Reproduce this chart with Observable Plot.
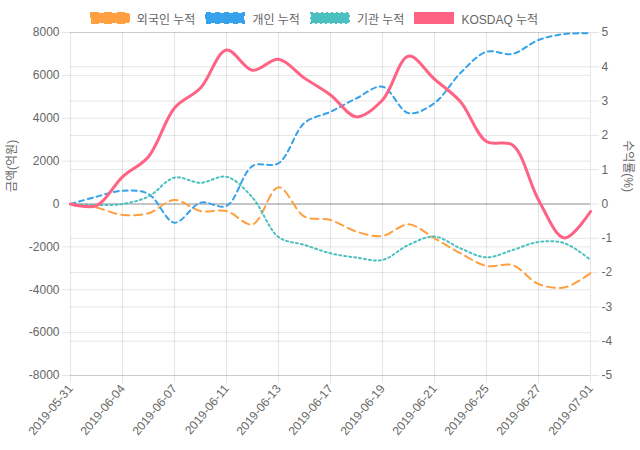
<!DOCTYPE html>
<html>
<head>
<meta charset="utf-8">
<script src="https://cdn.jsdelivr.net/npm/d3@7"></script>
<script src="https://cdn.jsdelivr.net/npm/@observablehq/plot@0.6"></script>
<style>
  body { margin: 0; background: #fff; }
  #wrap { position: relative; width: 640px; height: 450px; font-family: "Liberation Sans", Arial, "Noto Sans CJK KR", sans-serif; }
  #legend { position: absolute; top: 11px; left: 0; width: 640px; height: 14px; display: flex; justify-content: center; align-items: center; font-size: 12px; color: #666; padding-right: 12px; box-sizing: border-box; }
  .item { display: flex; align-items: center; margin: 0 5px; }
  .item svg { margin-right: 7px; }
</style>
</head>
<body>
<div id="wrap">
  <div id="chart"></div>
  <div id="legend"></div>
</div>
<script>
const dates = ["2019-05-31","2019-06-03","2019-06-04","2019-06-05","2019-06-07","2019-06-10","2019-06-11","2019-06-12","2019-06-13","2019-06-14","2019-06-17","2019-06-18","2019-06-19","2019-06-20","2019-06-21","2019-06-24","2019-06-25","2019-06-26","2019-06-27","2019-06-28","2019-07-01"];
const foreign = [0,-170,-510,-430,190,-330,-330,-950,780,-590,-750,-1290,-1490,-950,-1600,-2300,-2890,-2850,-3730,-3890,-3230];
const individual = [0,340,620,470,-870,60,-90,1770,1900,3780,4300,4930,5470,4240,4710,6110,7100,7000,7650,7930,7960];
const institution = [0,-50,0,350,1230,990,1270,300,-1540,-1910,-2300,-2500,-2610,-1910,-1520,-2070,-2490,-2150,-1770,-1830,-2610];
const kosdaq = [0,-0.05,0.79,1.38,2.8,3.38,4.49,3.9,4.22,3.67,3.18,2.54,3.03,4.31,3.64,2.98,1.82,1.72,0.12,-0.99,-0.22];

const seriesNames = ["외국인 누적","개인 누적","기관 누적","KOSDAQ 누적"];
const seriesColors = ["rgb(255,159,64)","rgb(54,162,235)","rgb(75,192,192)","rgb(255,99,132)"];
const seriesDash = ["8,5","5,4","2,3",null];
const leftTicks = [-8000,-6000,-4000,-2000,0,2000,4000,6000,8000];
const rightTicks = [-5,-4,-3,-2,-1,0,1,2,3,4,5];
const xTickLabels = dates.filter((d,i) => i % 2 === 0);
const leftTitle = "금액(억원)";
const rightTitle = "수익률(%)";

const K = 8000 / 5; // right-axis (%) to left-axis units
const rows = dates.map((d,i) => ({date: d, foreign: foreign[i], individual: individual[i], institution: institution[i], kosdaq: kosdaq[i] * K}));

const gridColor = "rgba(0,0,0,0.1)";
const font = "'Liberation Sans', Arial, 'Noto Sans CJK KR', sans-serif";

const chart = Plot.plot({
  width: 640,
  height: 450,
  marginTop: 32,
  marginBottom: 75,
  marginLeft: 70,
  marginRight: 50,
  style: {fontSize: "12px", fontFamily: font, color: "#666", background: "#fff"},
  x: {type: "point", domain: dates, padding: 0},
  y: {domain: [-8000, 8000]},
  marks: [
    Plot.ruleY(leftTicks, {stroke: gridColor}),
    Plot.ruleY(rightTicks.map(v => v * K), {stroke: gridColor}),
    Plot.ruleX(xTickLabels, {stroke: gridColor}),
    Plot.ruleY([0], {stroke: "rgba(0,0,0,0.28)"}),
    Plot.axisY(leftTicks, {anchor: "left", tickSize: 8, tickPadding: 3, stroke: "#000", strokeOpacity: 0.1, fill: "#666", label: null, tickFormat: d => String(d)}),
    Plot.axisY(rightTicks.map(v => v * K), {anchor: "right", tickSize: 8, tickPadding: 3, stroke: "#000", strokeOpacity: 0.1, fill: "#666", label: null, tickFormat: d => String(Math.round(d / K))}),
    Plot.axisX(xTickLabels, {anchor: "bottom", tickSize: 8, tickPadding: 3, tickRotate: -50, stroke: "#000", strokeOpacity: 0.1, fill: "#666", label: null}),
    Plot.text([leftTitle], {frameAnchor: "left", dx: -58, dy: -12, rotate: -90, fill: "#666", fontSize: 12}),
    Plot.text([rightTitle], {frameAnchor: "right", dx: 37, dy: -12, rotate: 90, fill: "#666", fontSize: 12}),
    Plot.line(rows, {x: "date", y: "foreign", stroke: seriesColors[0], strokeWidth: 2, strokeDasharray: seriesDash[0], curve: "catmull-rom"}),
    Plot.line(rows, {x: "date", y: "individual", stroke: seriesColors[1], strokeWidth: 2, strokeDasharray: seriesDash[1], curve: "catmull-rom"}),
    Plot.line(rows, {x: "date", y: "institution", stroke: seriesColors[2], strokeWidth: 2, strokeDasharray: seriesDash[2], curve: "catmull-rom"}),
    Plot.line(rows, {x: "date", y: "kosdaq", stroke: seriesColors[3], strokeWidth: 3, curve: "catmull-rom"})
  ]
});
document.getElementById("chart").appendChild(chart);

const legend = document.getElementById("legend");
seriesNames.forEach((name, i) => {
  const item = document.createElement("div");
  item.className = "item";
  const dash = seriesDash[i] ? ` stroke-dasharray="${seriesDash[i]}"` : "";
  item.innerHTML = `<svg width="40" height="12"><rect x="1" y="1" width="38" height="10" fill="${seriesColors[i]}" stroke="${seriesColors[i]}" stroke-width="2"${dash}></rect></svg><span>${name}</span>`;
  legend.appendChild(item);
});
</script>
</body>
</html>
